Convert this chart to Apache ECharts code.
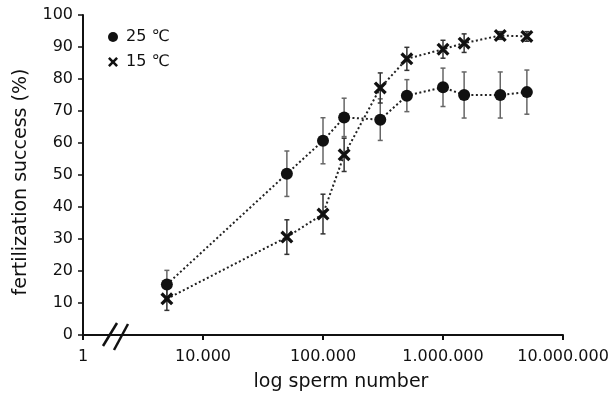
<!DOCTYPE html>
<html>
<head>
<meta charset="utf-8">
<script src="https://cdn.jsdelivr.net/npm/echarts@6/dist/echarts.min.js"></script>
<style>html,body{margin:0;padding:0;background:#fff}#c{width:613px;height:400px}</style>
</head>
<body>
<div id="c"></div>
<script>
// ---- data ----
const spermNumbers = [5000, 50000, 100000, 150000, 300000, 500000, 1000000, 1500000, 3000000, 5000000];
const success25 = [15.8, 50.4, 60.7, 68.0, 67.3, 74.8, 77.4, 75.0, 75.0, 75.9];
const error25   = [4.4, 7.1, 7.2, 6.0, 6.5, 5.0, 6.0, 7.2, 7.2, 6.9];
const success15 = [11.3, 30.6, 37.8, 56.3, 77.2, 86.3, 89.3, 91.2, 93.6, 93.3];
const error15   = [3.6, 5.4, 6.2, 5.2, 4.7, 3.6, 2.8, 2.9, 1.2, 1.5];
const xTickLabels = {1000: '1', 10000: '10.000', 100000: '100.000', 1000000: '1.000.000', 10000000: '10.000.000'};
const seriesNames = ['25 \u2103', '15 \u2103'];
const yTicks = [0, 100, 10]; // min, max, interval

const FONT = 'DejaVu Sans';
const crossPath = 'path://M0,1.8 L1.8,0 L5,3.2 L8.2,0 L10,1.8 L6.8,5 L10,8.2 L8.2,10 L5,6.8 L1.8,10 L0,8.2 L3.2,5 Z';

function pts(ys){ return spermNumbers.map((x,i)=>[x, ys[i]]); }
function errs(ys, es){ return spermNumbers.map((x,i)=>[x, ys[i]-es[i], ys[i]+es[i]]); }

function errRender(color){
  return function(params, api){
    const x = api.value(0);
    const top = api.coord([x, api.value(2)]);
    const bot = api.coord([x, api.value(1)]);
    const hw = 2.5;
    const st = {stroke: color, lineWidth: 1.5};
    return {type:'group', children:[
      {type:'line', shape:{x1:top[0], y1:top[1], x2:bot[0], y2:bot[1]}, style:st},
      {type:'line', shape:{x1:top[0]-hw, y1:top[1], x2:top[0]+hw, y2:top[1]}, style:st},
      {type:'line', shape:{x1:bot[0]-hw, y1:bot[1], x2:bot[0]+hw, y2:bot[1]}, style:st}
    ]};
  };
}

const chart = echarts.init(document.getElementById('c'), null, {renderer:'canvas'});
chart.setOption({
  animation: false,
  textStyle: {fontFamily: FONT},
  grid: {left: 83, right: 50, top: 15, bottom: 65, containLabel: false},
  legend: {
    orient: 'vertical', left: 103, top: 24, itemWidth: 10, itemHeight: 10, itemGap: 9,
    textStyle: {fontFamily: FONT, fontSize: 16, color: '#111', lineHeight: 16, padding: [0,0,0,3]},
    data: [{name: seriesNames[0], icon: 'circle'}, {name: seriesNames[1], icon: crossPath}]
  },
  xAxis: {
    type: 'log', logBase: 10, min: 1000, max: 10000000,
    name: 'log sperm number', nameLocation: 'middle', nameGap: 38,
    nameTextStyle: {fontFamily: FONT, fontSize: 19, color: '#111', padding: [0,0,0,36]},
    axisLine: {lineStyle: {color: '#111', width: 2}},
    axisTick: {show: true, length: 5, lineStyle: {color: '#111', width: 2}},
    axisLabel: {fontFamily: FONT, fontSize: 16, color: '#111', margin: 14,
      formatter: v => { const r = Math.round(v); return xTickLabels[r] !== undefined ? xTickLabels[r] : ''; }},
    splitLine: {show: false}, minorTick: {show: false}
  },
  yAxis: {
    type: 'value', min: yTicks[0], max: yTicks[1], interval: yTicks[2],
    name: 'fertilization success (%)', nameLocation: 'middle', nameGap: 52, nameRotate: 90,
    nameTextStyle: {fontFamily: FONT, fontSize: 19, color: '#111', padding: [0,14,0,0]},
    axisLine: {show: true, lineStyle: {color: '#111', width: 2}},
    axisTick: {show: true, length: 5, lineStyle: {color: '#111', width: 1.5}},
    axisLabel: {fontFamily: FONT, fontSize: 16, color: '#111', margin: 10},
    splitLine: {show: false}
  },
  series: [
    {type:'custom', name:'err25', renderItem: errRender('#666'), data: errs(success25, error25), encode:{x:0, y:[1,2]}, z:1, silent:true},
    {type:'custom', name:'err15', renderItem: errRender('#333'), data: errs(success15, error15), encode:{x:0, y:[1,2]}, z:1, silent:true},
    {type:'line', name: seriesNames[0], data: pts(success25), symbol:'circle', symbolSize: 12, z: 3,
     itemStyle:{color:'#111'}, lineStyle:{color:'#222', width:2, type:[2,2.5]}},
    {type:'line', name: seriesNames[1], data: pts(success15), symbol: crossPath, symbolSize: 13, z: 3,
     itemStyle:{color:'#111'}, lineStyle:{color:'#222', width:2, type:[2,2.5]}}
  ],
  graphic: [
    {type:'line', shape:{x1:103, y1:346, x2:117, y2:323}, style:{stroke:'#111', lineWidth:2.5}, z:100},
    {type:'line', shape:{x1:114, y1:350, x2:128, y2:324}, style:{stroke:'#111', lineWidth:2.5}, z:100}
  ]
});
</script>
</body>
</html>
